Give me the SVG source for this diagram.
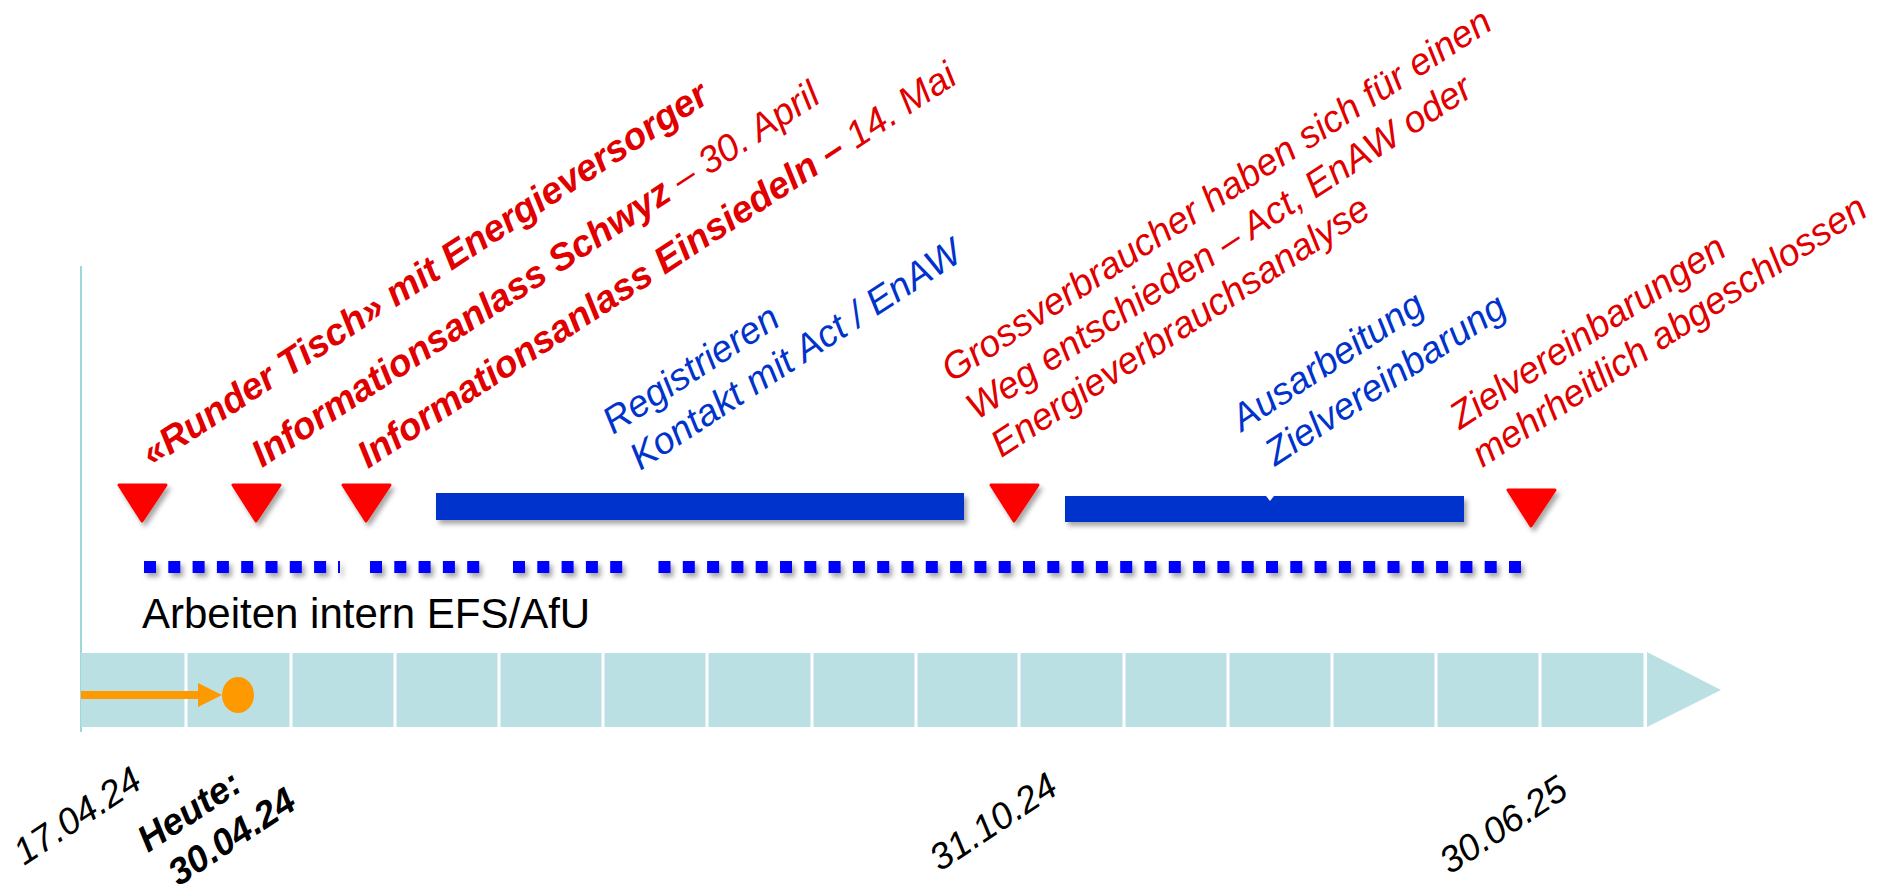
<svg xmlns="http://www.w3.org/2000/svg" width="1883" height="895" viewBox="0 0 1883 895">
<defs>
<filter id="sh" x="-20%" y="-40%" width="160%" height="200%">
<feDropShadow dx="3" dy="4" stdDeviation="2.5" flood-color="#000" flood-opacity="0.35"/>
</filter>
<filter id="shu" filterUnits="userSpaceOnUse" x="0" y="540" width="1883" height="60">
<feDropShadow dx="3" dy="4" stdDeviation="2.5" flood-color="#000" flood-opacity="0.35"/>
</filter>
</defs>
<style>
text{font-family:"Liberation Sans",Arial,sans-serif;font-style:italic}
.r{fill:#e00000;font-size:37.5px}
.b{fill:#0033cc;font-size:37.5px}
.k{fill:#000;font-size:37px}
.bold{font-weight:bold}
.tri{fill:#ff0000;stroke:#ff0000;stroke-width:3;stroke-linejoin:round;filter:url(#sh)}
.bar{fill:#0033cc;filter:url(#sh)}
.dots{stroke:#0000ff;stroke-width:12;stroke-dasharray:12 12.3}
.sep{stroke:#fff;stroke-width:3}
</style>
<rect width="1883" height="895" fill="#fff"/>

<g id="timeline">
<line x1="81" y1="266" x2="81" y2="732" stroke="#7fcbcc" stroke-width="1.5"/>
<rect x="81" y="653" width="1564" height="74" fill="#bbe0e3"/>
<polygon points="1647,652 1721,690 1647,727" fill="#bbe0e3"/>
<g class="sep">
<line x1="186" y1="653" x2="186" y2="727"/>
<line x1="291" y1="653" x2="291" y2="727"/>
<line x1="395" y1="653" x2="395" y2="727"/>
<line x1="499" y1="653" x2="499" y2="727"/>
<line x1="603" y1="653" x2="603" y2="727"/>
<line x1="707" y1="653" x2="707" y2="727"/>
<line x1="812" y1="653" x2="812" y2="727"/>
<line x1="916" y1="653" x2="916" y2="727"/>
<line x1="1019" y1="653" x2="1019" y2="727"/>
<line x1="1124" y1="653" x2="1124" y2="727"/>
<line x1="1228" y1="653" x2="1228" y2="727"/>
<line x1="1332" y1="653" x2="1332" y2="727"/>
<line x1="1436" y1="653" x2="1436" y2="727"/>
<line x1="1540" y1="653" x2="1540" y2="727"/>
<line x1="1645" y1="653" x2="1645" y2="727"/>
</g>
</g>

<g id="today">
<line x1="81" y1="695" x2="200" y2="695" stroke="#ff9900" stroke-width="8"/>
<polygon points="198,683 222,695 198,707" fill="#ff9900"/>
<ellipse cx="238" cy="695" rx="16" ry="18" fill="#ff9900"/>
</g>

<g id="internal">
<g filter="url(#shu)">
<line class="dots" x1="144" y1="567" x2="327" y2="567"/>
<rect x="338" y="561" width="2" height="12" fill="#0000ff"/>
<line class="dots" x1="370" y1="567" x2="480" y2="567"/>
<line class="dots" x1="513" y1="567" x2="623" y2="567"/>
<line class="dots" x1="658.5" y1="567" x2="1521" y2="567"/>
</g>
<text x="142" y="628" style="font-style:normal;font-size:42px;fill:#000">Arbeiten intern EFS/AfU</text>
</g>

<g id="milestone1">
<polygon class="tri" points="119,485 166,485 142,521"/>
<text class="r bold" transform="translate(152,467) rotate(-33.2)">«Runder Tisch» mit Energieversorger</text>
</g>
<g id="milestone2">
<polygon class="tri" points="233,485 280,485 256,521"/>
<text class="r" transform="translate(262,468) rotate(-33.2)"><tspan class="bold">Informationsanlass Schwyz</tspan> – 30. April</text>
</g>
<g id="milestone3">
<polygon class="tri" points="343,485 390,485 366,521"/>
<text class="r" transform="translate(368,469) rotate(-33.2)"><tspan class="bold">Informationsanlass Einsiedeln –</tspan> 14. Mai</text>
</g>

<g id="phase1">
<rect class="bar" x="436" y="493" width="528" height="27"/>
<text class="b" transform="translate(613,435) rotate(-33.2)"><tspan x="0" dy="0">Registrieren</tspan><tspan x="3" dy="45">Kontakt mit Act / EnAW</tspan></text>
</g>

<g id="milestone4">
<polygon class="tri" points="991,485 1038,485 1014,521"/>
<text class="r" transform="translate(952,383) rotate(-33.2)"><tspan x="0" dy="0">Grossverbraucher haben sich für einen</tspan><tspan x="0" dy="45">Weg entschieden – Act, EnAW oder</tspan><tspan x="0" dy="45">Energieverbrauchsanalyse</tspan></text>
</g>

<g id="phase2">
<rect class="bar" x="1065" y="496" width="399" height="26"/>
<polygon points="1266,496 1274,496 1270,501" fill="#fff"/>
<text class="b" transform="translate(1242,432) rotate(-33.2)"><tspan x="0" dy="0">Ausarbeitung</tspan><tspan x="9" dy="47">Zielvereinbarung</tspan></text>
</g>

<g id="milestone5">
<polygon class="tri" points="1508,490 1555,490 1531,526"/>
<text class="r" transform="translate(1460,430) rotate(-33.2)"><tspan x="0" dy="0">Zielvereinbarungen</tspan><tspan x="-2" dy="44">mehrheitlich abgeschlossen</tspan></text>
</g>

<g id="dates">
<text class="k" transform="translate(24,866) rotate(-33.5)">17.04.24</text>
<text class="k bold" transform="translate(148,853) rotate(-33.5)"><tspan x="0" dy="0">Heute:</tspan><tspan x="7" dy="45">30.04.24</tspan></text>
<text class="k" transform="translate(940,872) rotate(-33.5)">31.10.24</text>
<text class="k" transform="translate(1450,875) rotate(-33.5)">30.06.25</text>
</g>
</svg>
